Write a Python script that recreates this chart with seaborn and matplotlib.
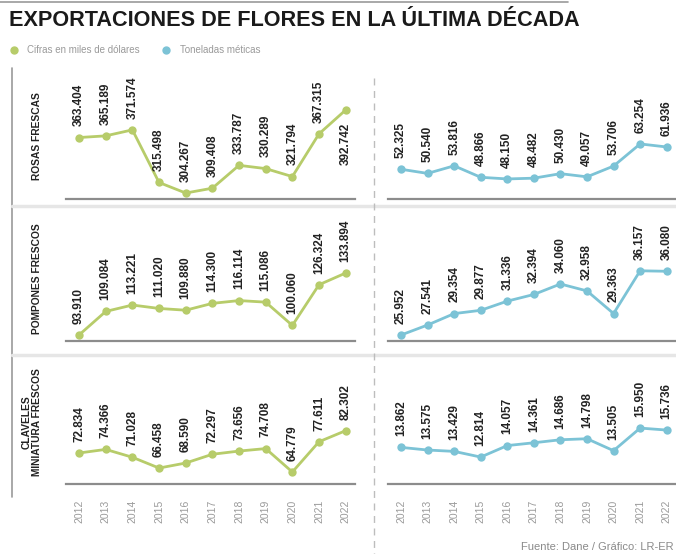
import numpy as np
import pandas as pd
import matplotlib
matplotlib.use('Agg')
import matplotlib.pyplot as plt
from matplotlib.lines import Line2D
import seaborn as sns

sns.set_style("white")
plt.rcParams['font.family'] = ['Liberation Sans Narrow', 'Liberation Sans', 'DejaVu Sans']

# Data
years = list(range(2012, 2023))
rosas_usd = [363.404, 365.189, 371.574, 315.498, 304.267, 309.408, 333.787, 330.289, 321.794, 367.315, 392.742]
rosas_ton = [52.325, 50.540, 53.816, 48.866, 48.150, 48.482, 50.430, 49.057, 53.706, 63.254, 61.936]
pompones_usd = [93.910, 109.084, 113.221, 111.020, 109.880, 114.300, 116.114, 115.086, 100.060, 126.324, 133.894]
pompones_ton = [25.952, 27.541, 29.354, 29.877, 31.336, 32.394, 34.060, 32.958, 29.363, 36.157, 36.080]
claveles_usd = [72.834, 74.366, 71.028, 66.458, 68.590, 72.297, 73.656, 74.708, 64.779, 77.611, 82.302]
claveles_ton = [13.862, 13.575, 13.429, 12.814, 14.057, 14.361, 14.686, 14.798, 13.505, 15.950, 15.736]

row_names = ['ROSAS FRESCAS', 'POMPONES FRESCOS', 'CLAVELES\nMINIATURA FRESCOS']
usd_series = [rosas_usd, pompones_usd, claveles_usd]
ton_series = [rosas_ton, pompones_ton, claveles_ton]

GREEN = '#b7cc6a'
BLUE = '#7cc3d6'
GREY_TXT = '#9a9a9a'
DARK = '#222222'

W, H = 676, 554
fig = plt.figure(figsize=(W / 100, H / 100), dpi=100)


def fx(px):
    return px / W


def fy(py):
    return 1 - py / H


# pixel rows: (top, bottom), y-limits left/right
rows = [(68, 199), (212, 341), (362, 484)]
ylims_left = [(297.9, 437.5), (90.0, 173.3), (59.7, 111.4)]
ylims_right = [(39.5, 96.0), (25.0, 45.5), (9.9, 23.1)]
# labels that sit below their point: (row, side, index)
below = {(0, 'L', 10)}


def draw_panel(ax, vals, color, ylim, row, side, show_years):
    df = pd.DataFrame({'year': years, 'v': vals})
    sns.lineplot(data=df, x='year', y='v', ax=ax, color=color, lw=2,
                 marker='o', markersize=6, markeredgewidth=0)
    ax.set_xlim(2011.51, 2022.35)
    ax.set_ylim(*ylim)
    for s in ['top', 'right', 'left']:
        ax.spines[s].set_visible(False)
    ax.spines['bottom'].set_color('#8c8c8c')
    ax.spines['bottom'].set_linewidth(1.6)
    ax.set_yticks([])
    ax.set_xlabel('')
    ax.set_ylabel('')
    ax.set_xticks(years)
    if show_years:
        ax.set_xticklabels([str(y) for y in years], rotation=90, fontsize=7.5, color=GREY_TXT)
        ax.tick_params(axis='x', length=0, pad=11)
    else:
        ax.set_xticklabels([])
        ax.tick_params(axis='x', length=0)
    for i, (x, v) in enumerate(zip(years, vals)):
        if (row, side, i) in below:
            ax.annotate(f"{v:.3f}", (x, v), xytext=(0, -9), textcoords='offset points',
                        rotation=90, ha='center', va='top', fontsize=8.5,
                        fontweight='bold', color=DARK, annotation_clip=False)
        else:
            ax.annotate(f"{v:.3f}", (x, v), xytext=(0, 8), textcoords='offset points',
                        rotation=90, ha='center', va='bottom', fontsize=8.5,
                        fontweight='bold', color=DARK, annotation_clip=False)
    ax.patch.set_alpha(0)


for r, (top, bot) in enumerate(rows):
    axl = fig.add_axes([fx(66), fy(bot), fx(355 - 66), fy(top) - fy(bot)])
    draw_panel(axl, usd_series[r], GREEN, ylims_left[r], r, 'L', r == 2)
    axr = fig.add_axes([fx(388), fy(bot), fx(676 - 388), fy(top) - fy(bot)])
    draw_panel(axr, ton_series[r], BLUE, ylims_right[r], r, 'R', r == 2)

# row labels
fig.text(fx(37), fy(136), row_names[0], rotation=90, ha='center', va='center',
         fontsize=7.4, fontweight='bold', color=DARK)
fig.text(fx(37), fy(279), row_names[1], rotation=90, ha='center', va='center',
         fontsize=7.4, fontweight='bold', color=DARK)
fig.text(fx(32), fy(422), row_names[2], rotation=90, ha='center', va='center',
         fontsize=7.4, fontweight='bold', color=DARK, linespacing=1.0)

# frame lines
fig.add_artist(Line2D([fx(12), fx(12)], [fy(68), fy(497)], color='#9a9a9a', lw=1.2))
for yy in [206, 355]:
    fig.add_artist(Line2D([fx(12), 1], [fy(yy), fy(yy)], color='#e6e6e6', lw=2.5))
fig.add_artist(Line2D([fx(374), fx(374)], [fy(78), 0], color='#bdbdbd', lw=1,
                      linestyle=(0, (5, 4))))
fig.add_artist(Line2D([0, fx(568)], [fy(2), fy(2)], color='#9a9a9a', lw=1.2))

# title
fig.text(fx(9), fy(21), 'EXPORTACIONES DE FLORES EN LA ÚLTIMA DÉCADA', ha='left', va='center',
         fontsize=15.6, fontweight='bold', color='#1a1a1a')

# legend
fig.add_artist(Line2D([fx(14)], [fy(50)], marker='o', color=GREEN, markersize=5, lw=0))
fig.text(fx(27), fy(50), 'Cifras en miles de dólares', ha='left', va='center', fontsize=7, color=GREY_TXT)
fig.add_artist(Line2D([fx(166)], [fy(50)], marker='o', color=BLUE, markersize=5, lw=0))
fig.text(fx(180), fy(50), 'Toneladas méticas', ha='left', va='center', fontsize=7, color=GREY_TXT)

# source
fig.text(fx(674), fy(547), 'Fuente: Dane / Gráfico: LR-ER', ha='right', va='center',
         fontsize=8, color='#8a8a8a')

fig.savefig('out.png', dpi=100)
